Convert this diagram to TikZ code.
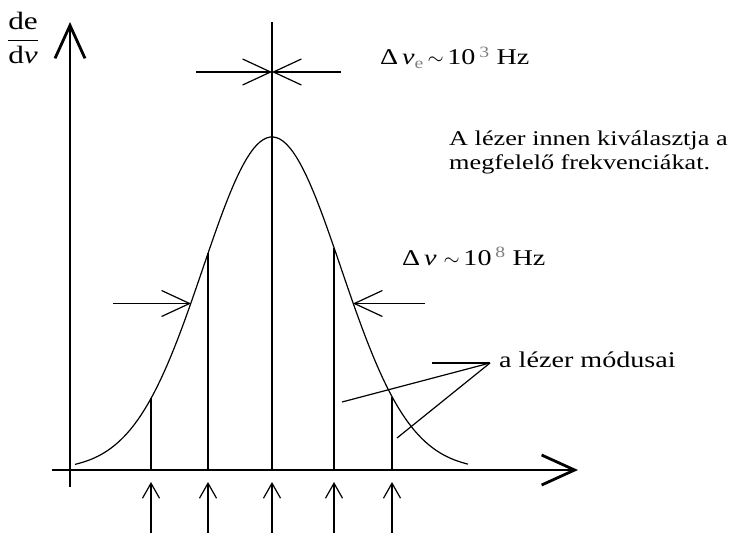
\documentclass[tikz,border=0pt]{standalone}
\usepackage{amsmath}
\usepackage{fontspec}
\setmainfont[FakeStretch=1.25]{Liberation Serif}
\usetikzlibrary{arrows.meta}

\pgfmathdeclarefunction{gauss}{1}{\pgfmathparse{470-333*exp(-0.5*((#1-272)/69)^2)}}

\begin{document}
\begin{tikzpicture}[x=1pt, y=-1pt,
    axis/.style={line width=2.8pt, -{Straight Barb[length=33pt, width=30pt, line width=2.8pt]}},
    curve/.style={line width=1.2pt},
    mode/.style={line width=1.6pt},
    pump/.style={line width=1.4pt, -{Straight Barb[length=15pt, width=17pt, line width=1.2pt]}},
    narrow/.style={line width=1.4pt, -{Straight Barb[length=28pt, width=26pt, line width=1.2pt]}},
    lbl/.style={font=\fontsize{22.5}{23.5}\selectfont, inner sep=0pt},
    hint/.style={line width=1.2pt}
]
\useasboundingbox (0,0) rectangle (744,535);

\draw[axis] (52,470) -- (578,470);
\draw[axis] (70,487) -- (70,22);
\node[lbl, font=\fontsize{25}{26}\selectfont] (dedn) at (23,38) {$\dfrac{\text{de}}{\text{d\textit{ν}}}$};

\draw[curve] plot[domain=75:468, samples=120] (\x, {gauss(\x)});

\foreach \m in {151,208,334,392}
    \draw[mode] (\m,470) -- (\m,{gauss(\m)});
\draw[mode] (272,470) -- (272,22);
\foreach \m in {151,208,272,334,392}
    \draw[pump] (\m,533) -- (\m,482);

\coordinate (star) at (272,72);
\draw[narrow] (196,72) -- (star);
\draw[narrow] (341,72) -- (star);
\node[lbl, anchor=base west] (lwe) at (380,65) {Δ\,\textit{ν}\textsubscript{\color{gray}e}\,$\sim$\,10\,\textsuperscript{\color{gray}3} Hz};

\coordinate (hl) at (191,303.5);
\coordinate (hr) at (353,303.5);
\draw[narrow] (113,303.5) -- (hl);
\draw[narrow] (425,303.5) -- (hr);
\node[lbl, anchor=base west] (lw) at (402,265) {Δ\,\textit{ν} $\sim$\,10\,\textsuperscript{\color{gray}8} Hz};

\node[lbl, font=\fontsize{21}{23.5}\selectfont, anchor=north west, align=left] (sel) at (449,131) {A lézer innen kiválasztja a\\megfelelő frekvenciákat.};

\coordinate (tip) at (490,363);
\node[lbl, anchor=base west] (modes) at (499,367) {a lézer módusai};
\draw[hint] (432,363) -- (tip);
\draw[hint] (342,402) -- (tip);
\draw[hint] (397,438) -- (tip);
\end{tikzpicture}
\end{document}
